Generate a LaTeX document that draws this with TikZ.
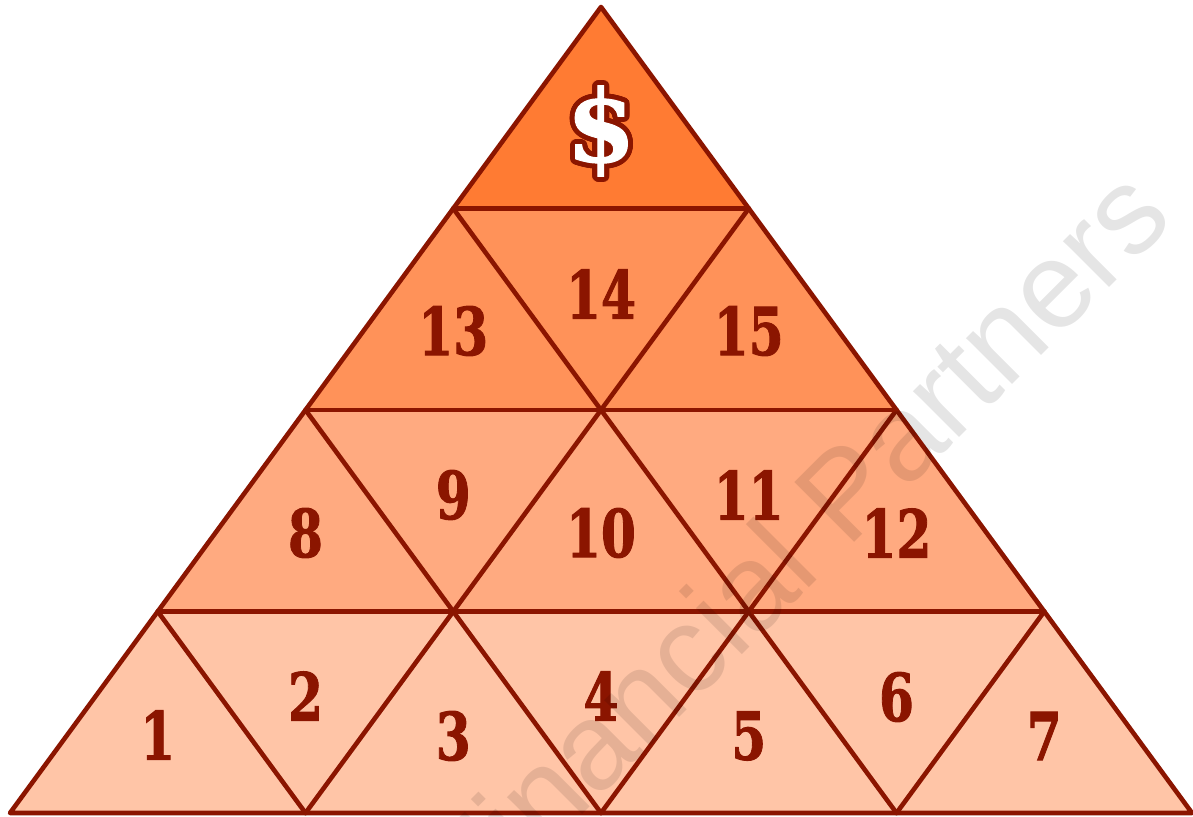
\documentclass[tikz,border=0pt]{standalone}
\usepackage{fontspec}
\usetikzlibrary{calc}
\newfontfamily\numfont[FakeBold=1.6]{DejaVu Serif Bold}
\newfontfamily\dolfont[FakeBold=1.0]{DejaVu Serif Bold}
\newfontfamily\wmfont{Liberation Sans}
\definecolor{edge}{HTML}{8B1500}
\definecolor{rowA}{HTML}{FF7B33}
\definecolor{rowB}{HTML}{FF9259}
\definecolor{rowC}{HTML}{FFAA80}
\definecolor{rowD}{HTML}{FFC5A7}
\tikzset{
  num/.style={inner sep=0pt, text=edge, font=\numfont\fontsize{33}{33}\selectfont},
  dollar/.style={inner sep=0pt, font=\dolfont\fontsize{50}{50}\selectfont},
  edgeline/.style={draw=edge, line width=2.3pt, line join=round, line cap=round},
}
\newcommand{\nm}[1]{\scalebox{0.76}[1]{#1}}
\begin{document}
\begin{tikzpicture}[x=0.5pt,y=-0.5pt]
\useasboundingbox (0,0) rectangle (1193,817);
\clip (0,0) rectangle (1193,817);
\fill[white] (0,0) rectangle (1193,817);
% vertices
\foreach \k in {0,...,4}{
  \foreach \j in {0,...,\k}{
    \coordinate (p\k-\j) at ({601-147.75*\k+295.5*\j},{7+201.5*\k});
  }
}
% row fills
\fill[rowA] (p0-0) -- (p1-1) -- (p1-0) -- cycle;
\fill[rowB] (p1-0) -- (p1-1) -- (p2-2) -- (p2-0) -- cycle;
\fill[rowC] (p2-0) -- (p2-2) -- (p3-3) -- (p3-0) -- cycle;
\fill[rowD] (p3-0) -- (p3-3) -- (p4-4) -- (p4-0) -- cycle;
% horizontal lines
\foreach \k in {1,2,3}{ \draw[edgeline] (p\k-0) -- (p\k-\k); }
% lines parallel to the left side
\foreach \m in {1,2,3}{ \draw[edgeline] (p\m-\m) -- (p4-\m); }
% lines parallel to the right side
\foreach \c in {1,2,3}{
  \pgfmathtruncatemacro{\e}{4-\c}
  \draw[edgeline] (p\c-0) -- (p4-\e);
}
% outline
\draw[edgeline] (p0-0) -- (p4-0) -- (p4-4) -- cycle;
% dollar sign
\coordinate (dc) at (601,131);
\foreach \a in {0,15,...,345}{
  \node[dollar, text=edge] (d\a) at ($(dc)+(\a:5)$) {\$};
}
\node[dollar, text=white] (dollar) at (dc) {\$};
% numbers
\node[num] (t1) at (157.75,735) {\nm{1}};
\node[num] (t2) at (305.5,696) {\nm{2}};
\node[num] (t3) at (453.25,736) {\nm{3}};
\node[num] (t4) at (601,696) {\nm{4}};
\node[num] (t5) at (748.75,736) {\nm{5}};
\node[num] (t6) at (896.5,697) {\nm{6}};
\node[num] (t7) at (1044.25,736) {\nm{7}};
\node[num] (t8) at (305.5,533) {\nm{8}};
\node[num] (t9) at (453.25,495) {\nm{9}};
\node[num] (t10) at (601,533) {\nm{10}};
\node[num] (t11) at (748.75,495) {\nm{11}};
\node[num] (t12) at (896.5,533) {\nm{12}};
\node[num] (t13) at (453.25,331) {\nm{13}};
\node[num] (t14) at (601,294) {\nm{14}};
\node[num] (t15) at (748.75,331) {\nm{15}};
% watermark
\node[anchor=base west, rotate=45, inner sep=0pt, text=black, text opacity=0.1,
      font=\wmfont\fontsize{61.5}{61.5}\selectfont] (wm) at (475,922) {Financial Partners};
\end{tikzpicture}
\end{document}
